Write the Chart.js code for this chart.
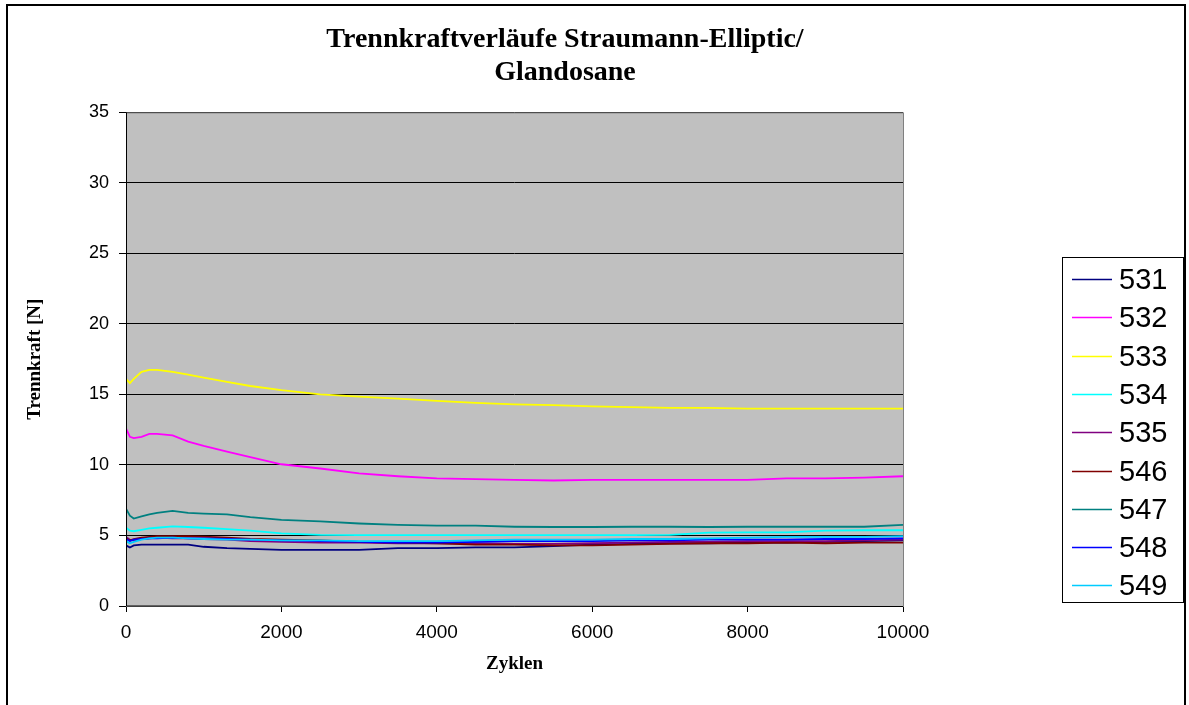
<!DOCTYPE html>
<html>
<head>
<meta charset="utf-8">
<script src="https://cdn.jsdelivr.net/npm/chart.js@4/dist/chart.umd.min.js"></script>
<style>
  html, body { margin: 0; padding: 0; background: #fff; }
  #wrap { width: 1189px; height: 705px; position: relative; }
</style>
</head>
<body>
<div id="wrap"><canvas id="myChart" width="1189" height="705"></canvas></div>
<script>
// Zyklen (x values shared by all series)
const cycles = [0, 50, 100, 200, 300, 400, 600, 800, 1000, 1300, 1600, 2000, 2500, 3000, 3500,
    4000, 4500, 5000, 5500, 6000, 6500, 7000, 7500, 8000, 8500, 9000, 9500, 10000];

const s531 = [4.3, 4.15, 4.3, 4.35, 4.35, 4.35, 4.35, 4.35, 4.2, 4.1, 4.05, 3.98, 3.98, 3.98, 4.1,
    4.1, 4.15, 4.15, 4.25, 4.35, 4.4, 4.45, 4.45, 4.5, 4.5, 4.55, 4.6, 4.65];
const s532 = [12.6, 12.0, 11.9, 12.0, 12.2, 12.2, 12.1, 11.65, 11.35, 10.95, 10.55, 10.05, 9.75, 9.4, 9.2,
    9.05, 9.0, 8.95, 8.9, 8.95, 8.95, 8.95, 8.95, 8.95, 9.05, 9.05, 9.1, 9.2];
const s533 = [16.1, 15.8, 16.1, 16.6, 16.75, 16.75, 16.6, 16.4, 16.2, 15.9, 15.6, 15.3, 15.0, 14.85, 14.7,
    14.55, 14.4, 14.3, 14.25, 14.15, 14.1, 14.05, 14.05, 14.0, 14.0, 14.0, 14.0, 14.0];
const s534 = [5.55, 5.35, 5.3, 5.4, 5.5, 5.55, 5.65, 5.6, 5.55, 5.45, 5.35, 5.15, 5.05, 5.02, 5.02,
    5.02, 5.02, 5.02, 5.02, 5.02, 5.02, 5.05, 5.2, 5.22, 5.22, 5.35, 5.37, 5.37];
const s535 = [4.9, 4.7, 4.65, 4.75, 4.8, 4.85, 4.8, 4.8, 4.75, 4.7, 4.6, 4.55, 4.5, 4.5, 4.45,
    4.45, 4.45, 4.4, 4.4, 4.45, 4.5, 4.55, 4.55, 4.6, 4.6, 4.6, 4.65, 4.7];
const s546 = [4.8, 4.65, 4.75, 4.85, 4.9, 4.95, 4.95, 4.95, 4.92, 4.85, 4.75, 4.7, 4.65, 4.55, 4.5,
    4.45, 4.35, 4.35, 4.3, 4.3, 4.35, 4.4, 4.45, 4.45, 4.5, 4.45, 4.5, 4.5];
const s547 = [6.9, 6.4, 6.2, 6.35, 6.5, 6.6, 6.75, 6.6, 6.55, 6.5, 6.3, 6.1, 6.0, 5.85, 5.75,
    5.7, 5.7, 5.62, 5.6, 5.6, 5.62, 5.62, 5.6, 5.62, 5.62, 5.62, 5.62, 5.75];
const s548 = [4.75, 4.6, 4.7, 4.75, 4.8, 4.8, 4.85, 4.8, 4.8, 4.75, 4.7, 4.65, 4.6, 4.55, 4.5,
    4.5, 4.55, 4.6, 4.6, 4.6, 4.65, 4.65, 4.7, 4.7, 4.7, 4.75, 4.75, 4.8];
const s549 = [4.6, 4.45, 4.55, 4.7, 4.8, 4.85, 4.85, 4.8, 4.75, 4.7, 4.7, 4.65, 4.65, 4.6, 4.6,
    4.6, 4.65, 4.7, 4.7, 4.7, 4.75, 4.75, 4.8, 4.85, 4.9, 4.9, 4.9, 4.95];

const seriesNames = ['531', '532', '533', '534', '535', '546', '547', '548', '549'];
const seriesValues = [s531, s532, s533, s534, s535, s546, s547, s548, s549];
const seriesColors = ['#000080', '#FF00FF', '#FFFF00', '#00FFFF', '#800080', '#800000', '#008080', '#0000FF', '#00CCFF'];

const yTicks = [0, 5, 10, 15, 20, 25, 30, 35];
const xTicks = [0, 2000, 4000, 6000, 8000, 10000];

const sans = "'Liberation Sans', Arial, sans-serif";
const serif = "'Liberation Serif', 'Times New Roman', serif";

// grey plot area, outer frame
const frame = {
    id: 'frame',
    beforeDraw(chart) {
        const ctx = chart.ctx;
        const a = chart.chartArea;
        ctx.save();
        ctx.fillStyle = '#fff';
        ctx.fillRect(0, 0, chart.width, chart.height);
        ctx.strokeStyle = '#000';
        ctx.lineWidth = 2;
        ctx.strokeRect(7, 5, 1178, 720);
        ctx.fillStyle = '#C0C0C0';
        ctx.fillRect(a.left, a.top, a.right - a.left, a.bottom - a.top);
        ctx.restore();
    },
    afterDatasetsDraw(chart) {
        const ctx = chart.ctx;
        const a = chart.chartArea;
        ctx.save();
        ctx.strokeStyle = '#808080';
        ctx.lineWidth = 1;
        ctx.strokeRect(a.left + 0.5, a.top + 0.5, a.right - a.left, a.bottom - a.top);
        ctx.strokeStyle = '#000';
        ctx.beginPath();
        ctx.moveTo(a.left + 0.5, a.top);
        ctx.lineTo(a.left + 0.5, a.bottom);
        ctx.lineTo(a.right, a.bottom + 0.5);
        ctx.stroke();
        ctx.restore();
    }
};

// move the title so it is centred where the original had it
const titleShift = {
    id: 'titleShift',
    afterLayout(chart) {
        if (chart.titleBlock) {
            chart.titleBlock.left = 8;
            chart.titleBlock.right = 1122;
        }
    }
};

// boxed legend on the right
const boxLegend = {
    id: 'boxLegend',
    afterDraw(chart) {
        const ctx = chart.ctx;
        ctx.save();
        ctx.strokeStyle = '#000';
        ctx.lineWidth = 1;
        ctx.strokeRect(1062.5, 257.5, 121, 345);
        ctx.font = '29px ' + sans;
        ctx.textBaseline = 'middle';
        ctx.fillStyle = '#000';
        chart.data.datasets.forEach((ds, i) => {
            const y = Math.round(279 + i * 38.3) + 0.5;
            ctx.strokeStyle = ds.borderColor;
            ctx.lineWidth = 1.3;
            ctx.beginPath();
            ctx.moveTo(1072, y);
            ctx.lineTo(1112, y);
            ctx.stroke();
            ctx.fillText(ds.label, 1119, y + 1);
        });
        ctx.restore();
    }
};

const datasets = seriesNames.map((name, i) => ({
    label: name,
    data: cycles.map((c, j) => ({x: c, y: seriesValues[i][j]})),
    borderColor: seriesColors[i],
    backgroundColor: seriesColors[i],
    borderWidth: 1.8,
    pointRadius: 0,
    tension: 0,
    fill: false,
    order: -i
}));

const ctx = document.getElementById('myChart').getContext('2d');
const myChart = new Chart(ctx, {
    type: 'line',
    data: { datasets: datasets },
    options: {
        responsive: false,
        animation: false,
        layout: { padding: { left: 8, right: 286, top: 0, bottom: 0 } },
        plugins: {
            legend: { display: false },
            tooltip: { enabled: false },
            title: {
                display: true,
                text: ['Trennkraftverläufe Straumann-Elliptic/', 'Glandosane'],
                color: '#000',
                font: { family: serif, size: 28, weight: 'bold', lineHeight: 1.15 },
                padding: { top: 24, bottom: 24 }
            }
        },
        scales: {
            x: {
                type: 'linear',
                min: 0,
                max: 10000,
                afterBuildTicks(axis) {
                    axis.ticks = xTicks.map(v => ({value: v}));
                },
                afterFit(axis) { axis.height = 99; },
                grid: {
                    drawOnChartArea: false,
                    drawTicks: true,
                    tickLength: 6,
                    tickColor: '#000',
                    color: '#000'
                },
                border: { display: false },
                ticks: {
                    color: '#000',
                    font: { family: sans, size: 19 },
                    padding: 9,
                    maxRotation: 0,
                    callback: function(value) { return String(value); }
                },
                title: {
                    display: true,
                    text: 'Zyklen',
                    color: '#000',
                    font: { family: serif, size: 19, weight: 'bold' },
                    padding: { top: 0, bottom: 30 }
                }
            },
            y: {
                min: 0,
                max: 35,
                afterBuildTicks(axis) {
                    axis.ticks = yTicks.map(v => ({value: v}));
                },
                afterFit(axis) { axis.width = 118; },
                grid: {
                    color: '#000',
                    lineWidth: 1,
                    drawTicks: true,
                    tickLength: 7,
                    tickColor: '#000'
                },
                border: { display: false },
                ticks: {
                    color: '#000',
                    font: { family: sans, size: 18 },
                    padding: 10
                },
                title: {
                    display: true,
                    text: 'Trennkraft [N]',
                    color: '#000',
                    font: { family: serif, size: 19, weight: 'bold' },
                    padding: { top: 16, bottom: 0 }
                }
            }
        }
    },
    plugins: [frame, titleShift, boxLegend]
});
</script>
</body>
</html>
